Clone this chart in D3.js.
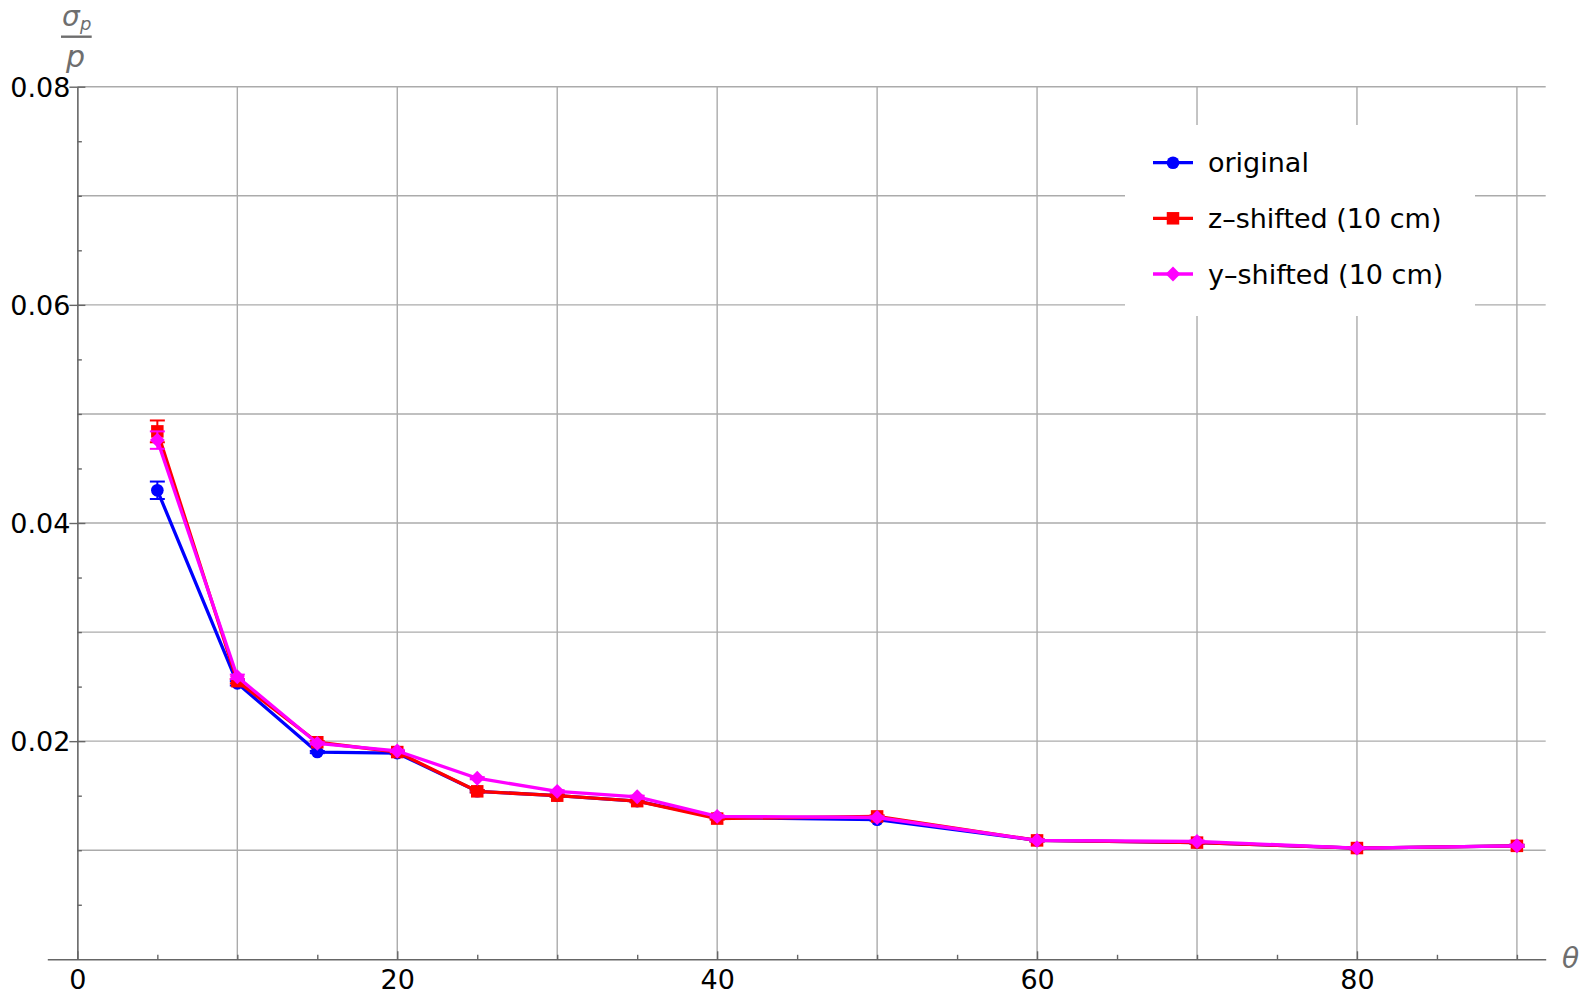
<!DOCTYPE html>
<html>
<head>
<meta charset="utf-8">
<script src="https://cdn.jsdelivr.net/npm/d3@7"></script>
<style>
  html, body { margin: 0; padding: 0; background: #fff; }
  svg { display: block; font-family: "DejaVu Sans", sans-serif; }
</style>
</head>
<body>
<svg id="chart" width="1589" height="994"></svg>
<script>
// ---- data ----
const theta = [5, 10, 15, 20, 25, 30, 35, 40, 50, 60, 70, 80, 90];
const original    = [0.0430, 0.0253, 0.0190, 0.0189, 0.0154, 0.0150, 0.0145, 0.0130, 0.0128, 0.0109, 0.0107, 0.0102, 0.0104];
const originalErr = [0.0008, 0.0002, 0.0001, 0.0001, 0.0001, 0.0001, 0.0001, 0.0001, 0.0001, 0.0001, 0.0001, 0.0001, 0.0001];
const zShifted    = [0.0484, 0.0255, 0.0199, 0.0190, 0.0154, 0.0150, 0.0145, 0.0129, 0.0131, 0.0109, 0.0107, 0.0102, 0.0104];
const zShiftedErr = [0.0010, 0.0002, 0.0001, 0.0001, 0.0001, 0.0001, 0.0001, 0.0001, 0.0001, 0.0001, 0.0001, 0.0001, 0.0001];
const yShifted    = [0.0476, 0.0259, 0.0198, 0.0191, 0.0166, 0.0154, 0.0149, 0.0131, 0.0130, 0.0109, 0.0108, 0.0102, 0.0104];
const yShiftedErr = [0.0008, 0.0002, 0.0001, 0.0001, 0.0001, 0.0001, 0.0001, 0.0001, 0.0001, 0.0001, 0.0001, 0.0001, 0.0001];
const seriesNames = ["original", "z\u2013shifted (10 cm)", "y\u2013shifted (10 cm)"];
const xTickLabels = [0, 20, 40, 60, 80];
const yTickLabels = [0.02, 0.04, 0.06, 0.08];
const xGrid = [10, 20, 30, 40, 50, 60, 70, 80, 90];
const yGrid = [0.01, 0.02, 0.03, 0.04, 0.05, 0.06, 0.07, 0.08];

// ---- scales ----
const x = d3.scaleLinear().domain([-1.88, 91.8]).range([47.3, 1545.7]);
const y = d3.scaleLinear().domain([0, 0.08]).range([959.3, 86.7]);

const svg = d3.select("#chart");
const FONT = 27;
const axisColor = "#666";
const gridColor = "#ababab";
const labelGray = "#6e6e6e";

// ---- gridlines ----
const grid = svg.append("g");
grid.selectAll("line.v").data(xGrid).join("line")
  .attr("x1", d => x(d)).attr("x2", d => x(d))
  .attr("y1", y(0)).attr("y2", y(0.08))
  .attr("stroke", gridColor).attr("stroke-width", 1.4);
grid.selectAll("line.h").data(yGrid).join("line")
  .attr("x1", x(0)).attr("x2", x(91.8))
  .attr("y1", d => y(d)).attr("y2", d => y(d))
  .attr("stroke", gridColor).attr("stroke-width", 1.4);

// ---- axes ----
const minorX = d3.range(5, 91, 5).filter(v => v % 20 !== 0);
const gxMinor = svg.append("g").attr("transform", `translate(0,${y(0)})`)
  .call(d3.axisBottom(x).tickValues(minorX).tickSize(-4.5).tickSizeOuter(0).tickFormat(""));
gxMinor.select(".domain").remove();

const gx = svg.append("g").attr("transform", `translate(0,${y(0)})`)
  .call(d3.axisBottom(x).tickValues(xTickLabels).tickSize(-8).tickSizeOuter(0).tickFormat(d3.format("d")));
gx.selectAll("text").attr("y", 30).attr("dy", 0)
  .attr("font-size", FONT).attr("font-family", "DejaVu Sans").attr("fill", "#000");

const minorY = d3.range(1, 17).map(i => i * 0.005).filter(v => Math.abs(v / 0.02 - Math.round(v / 0.02)) > 1e-6);
const gyMinor = svg.append("g").attr("transform", `translate(${x(0)},0)`)
  .call(d3.axisLeft(y).tickValues(minorY).tickSize(-4.5).tickSizeOuter(0).tickFormat(""));
gyMinor.select(".domain").remove();

const gy = svg.append("g").attr("transform", `translate(${x(0)},0)`)
  .call(d3.axisLeft(y).tickValues(yTickLabels).tickSize(-8).tickSizeOuter(0).tickFormat(d3.format(".2f")));
gy.selectAll(".tick").append("line").attr("x1", 0).attr("x2", -8).attr("stroke", axisColor).attr("stroke-width", 1.4);
gy.selectAll("text").attr("x", -7).attr("dy", 0).attr("y", 9.5)
  .attr("font-size", FONT).attr("font-family", "DejaVu Sans").attr("fill", "#000");

svg.selectAll(".domain").attr("stroke", axisColor).attr("stroke-width", 1.6);
svg.selectAll(".tick line").attr("stroke", axisColor).attr("stroke-width", 1.4);

// ---- axis labels ----
svg.append("text").attr("x", 1562).attr("y", 968)
  .attr("font-size", 28).attr("font-style", "italic").attr("fill", labelGray).text("\u03b8");
const yl = svg.append("g").attr("fill", labelGray).attr("font-style", "italic");
yl.append("text").attr("x", 62).attr("y", 26).attr("font-size", 28).text("\u03c3");
yl.append("text").attr("x", 80).attr("y", 30).attr("font-size", 18).text("p");
yl.append("line").attr("x1", 61).attr("x2", 91.7).attr("y1", 36.7).attr("y2", 36.7)
  .attr("stroke", labelGray).attr("stroke-width", 2.4);
yl.append("text").attr("x", 66).attr("y", 67).attr("font-size", 30).text("p");

// ---- series ----
const series = [
  { name: seriesNames[0], vals: original, errs: originalErr, color: "#0000ff", shape: "circle" },
  { name: seriesNames[1], vals: zShifted, errs: zShiftedErr, color: "#ff0000", shape: "square" },
  { name: seriesNames[2], vals: yShifted, errs: yShiftedErr, color: "#ff00ff", shape: "diamond" }
];
const symbolFor = s => {
  if (s === "circle") return d3.symbol(d3.symbolCircle, Math.PI * 6.3 * 6.3)();
  if (s === "square") return d3.symbol(d3.symbolSquare, 12.5 * 12.5)();
  return d3.symbol(d3.symbolSquare, 10.5 * 10.5)();
};
const line = d3.line().x(d => x(d.t)).y(d => y(d.v));

series.forEach(s => {
  const pts = theta.map((t, i) => ({ t, v: s.vals[i], e: s.errs[i] }));
  const g = svg.append("g");
  g.append("path").datum(pts).attr("d", line)
    .attr("fill", "none").attr("stroke", s.color).attr("stroke-width", 3.3).attr("stroke-linejoin", "round");
  const eb = g.selectAll("g.eb").data(pts).join("g");
  eb.append("line").attr("x1", d => x(d.t)).attr("x2", d => x(d.t))
    .attr("y1", d => y(d.v - d.e)).attr("y2", d => y(d.v + d.e))
    .attr("stroke", s.color).attr("stroke-width", 2);
  [-1, 1].forEach(sign => {
    eb.append("line").attr("x1", d => x(d.t) - 7.5).attr("x2", d => x(d.t) + 7.5)
      .attr("y1", d => y(d.v + sign * d.e)).attr("y2", d => y(d.v + sign * d.e))
      .attr("stroke", s.color).attr("stroke-width", 2);
  });
  g.selectAll("path.m").data(pts).join("path")
    .attr("d", symbolFor(s.shape))
    .attr("transform", d => `translate(${x(d.t)},${y(d.v)})` + (s.shape === "diamond" ? " rotate(45)" : ""))
    .attr("fill", s.color);
});

// ---- legend ----
const lg = svg.append("g");
lg.append("rect").attr("x", 1125).attr("y", 125).attr("width", 350).attr("height", 191).attr("fill", "#fff");
const rowY = [162.7, 218.3, 274];
series.forEach((s, i) => {
  lg.append("line").attr("x1", 1153).attr("x2", 1193).attr("y1", rowY[i]).attr("y2", rowY[i])
    .attr("stroke", s.color).attr("stroke-width", 3.3);
  lg.append("path").attr("d", symbolFor(s.shape))
    .attr("transform", `translate(1173,${rowY[i]})` + (s.shape === "diamond" ? " rotate(45)" : ""))
    .attr("fill", s.color);
  lg.append("text").attr("x", 1208).attr("y", rowY[i] + 9.5)
    .attr("font-size", FONT).attr("fill", "#000").text(s.name);
});
</script>
</body>
</html>
